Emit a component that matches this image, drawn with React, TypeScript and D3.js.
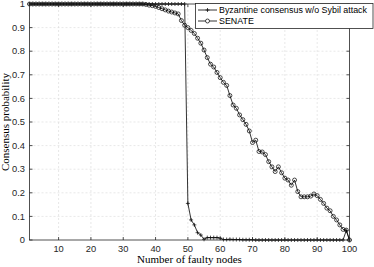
import React, { useEffect, useRef } from 'react';
import * as d3 from 'd3';

// faulty node counts 1..100
const nodes: number[] = d3.range(1, 101);

// Byzantine consensus w/o Sybil attack
const byzantine: number[] = [
  1, 1, 1, 1, 1, 1, 1, 1, 1, 1,
  1, 1, 1, 1, 1, 1, 1, 1, 1, 1,
  1, 1, 1, 1, 1, 1, 1, 1, 1, 1,
  1, 1, 1, 1, 1, 1, 1, 1, 1, 1,
  1, 1, 1, 1, 1, 1, 1, 1, 1, 0.155,
  0.085, 0.064, 0.031, 0.021, 0.003, 0.01, 0.01, 0.01, 0.01, 0.008,
  0.002, 0.002, 0.003, 0.002, 0.002, 0.002, 0.001, 0.001, 0.001, 0.001,
  0, 0, 0, 0, 0, 0, 0, 0, 0, 0,
  0, 0, 0, 0, 0, 0, 0, 0, 0, 0,
  0, 0, 0, 0, 0, 0, 0, 0, 0.04, 0
];

// SENATE
const senate: number[] = [
  1, 1, 1, 1, 1, 1, 1, 1, 1, 1,
  1, 1, 1, 1, 1, 1, 1, 1, 1, 1,
  1, 1, 1, 1, 1, 1, 1, 1, 1, 1,
  1, 1, 1, 1, 1, 1, 0.998, 0.995, 0.993, 0.99,
  0.985, 0.98, 0.975, 0.97, 0.966, 0.962, 0.958, 0.93, 0.91, 0.9,
  0.888, 0.875, 0.855, 0.834, 0.805, 0.773, 0.745, 0.733, 0.71, 0.688,
  0.668, 0.655, 0.612, 0.572, 0.558, 0.53, 0.51, 0.49, 0.462, 0.413,
  0.423, 0.375, 0.373, 0.362, 0.332, 0.31, 0.29, 0.31, 0.285, 0.262,
  0.254, 0.232, 0.254, 0.205, 0.183, 0.183, 0.183, 0.186, 0.195, 0.188,
  0.172, 0.155, 0.135, 0.124, 0.1, 0.085, 0.064, 0.045, 0.042, 0
];

const xTicks: number[] = [10, 20, 30, 40, 50, 60, 70, 80, 90, 100];
const yTicks: number[] = [0, 0.1, 0.2, 0.3, 0.4, 0.5, 0.6, 0.7, 0.8, 0.9, 1];
const seriesNames: string[] = ['Byzantine consensus w/o Sybil attack', 'SENATE'];

const W = 374;
const H = 267;

const App = () => {
  const svgRef = useRef<SVGSVGElement>(null);

  useEffect(() => {
    const svg = d3.select(svgRef.current);
    svg.selectAll('*').remove();

    const x = d3.scaleLinear().domain([1, 100]).range([29.5, 349.5]);
    const y = d3.scaleLinear().domain([0, 1]).range([240, 4]);
    const axisColor = '#262626';
    const tickFont = '"Liberation Sans", Arial, sans-serif';
    const labelFont = '"Liberation Serif", "DejaVu Serif", serif';

    svg.append('rect')
      .attr('width', W).attr('height', H).attr('fill', '#fff');

    //grid
    const grid = svg.append('g')
      .attr('stroke', '#d9d9d9')
      .attr('stroke-width', 0.6)
      .attr('stroke-dasharray', '2,2');
    grid.selectAll('.gx').data(xTicks.filter(d => d < 100)).enter().append('line')
      .attr('x1', d => x(d)).attr('x2', d => x(d))
      .attr('y1', y(0)).attr('y2', y(1));
    grid.selectAll('.gy').data(yTicks.filter(d => d > 0 && d < 1)).enter().append('line')
      .attr('x1', x(1)).attr('x2', x(100))
      .attr('y1', d => y(d)).attr('y2', d => y(d));

    //series
    const pts = (vals: number[]) => nodes.map((n, i) => [n, vals[i]] as [number, number]);
    const line = d3.line<[number, number]>().x(d => x(d[0])).y(d => y(d[1]));

    const byz = pts(byzantine);
    const sen = pts(senate);

    svg.append('path').datum(byz)
      .attr('fill', 'none').attr('stroke', '#000').attr('stroke-width', 0.8)
      .attr('d', line);
    svg.append('g').selectAll('path').data(byz).enter().append('path')
      .attr('d', d => `M${x(d[0]) - 2},${y(d[1])}h4M${x(d[0])},${y(d[1]) - 2}v4`)
      .attr('stroke', '#000').attr('stroke-width', 0.7);

    svg.append('path').datum(sen)
      .attr('fill', 'none').attr('stroke', '#000').attr('stroke-width', 0.8)
      .attr('d', line);
    svg.append('g').selectAll('circle').data(sen).enter().append('circle')
      .attr('cx', d => x(d[0])).attr('cy', d => y(d[1])).attr('r', 2)
      .attr('fill', 'none').attr('stroke', '#000').attr('stroke-width', 0.7);

    //axes box + ticks
    const ax = svg.append('g').attr('stroke', axisColor).attr('stroke-width', 0.8).attr('fill', 'none');
    ax.append('rect')
      .attr('x', x(1)).attr('y', y(1))
      .attr('width', x(100) - x(1)).attr('height', y(0) - y(1));
    xTicks.forEach(t => {
      ax.append('line').attr('x1', x(t)).attr('x2', x(t)).attr('y1', y(0)).attr('y2', y(0) - 3);
      ax.append('line').attr('x1', x(t)).attr('x2', x(t)).attr('y1', y(1)).attr('y2', y(1) + 3);
    });
    yTicks.forEach(t => {
      ax.append('line').attr('x1', x(1)).attr('x2', x(1) + 3).attr('y1', y(t)).attr('y2', y(t));
      ax.append('line').attr('x1', x(100)).attr('x2', x(100) - 3).attr('y1', y(t)).attr('y2', y(t));
    });

    //tick labels
    svg.append('g').selectAll('text').data(xTicks).enter().append('text')
      .attr('x', d => x(d)).attr('y', 252)
      .attr('text-anchor', 'middle')
      .attr('font-family', tickFont).attr('font-size', 9.3).attr('fill', axisColor)
      .text(d => d);
    svg.append('g').selectAll('text').data(yTicks).enter().append('text')
      .attr('x', 25).attr('y', d => y(d) + 3.2)
      .attr('text-anchor', 'end')
      .attr('font-family', tickFont).attr('font-size', 9.3).attr('fill', axisColor)
      .text(d => d3.format('~g')(d));

    //axis labels
    svg.append('text')
      .attr('x', 189.5).attr('y', 263)
      .attr('text-anchor', 'middle')
      .attr('font-family', labelFont).attr('font-size', 11).attr('fill', '#000')
      .text('Number of faulty nodes');
    svg.append('text')
      .attr('transform', `translate(9,${(y(0) + y(1)) / 2}) rotate(-90)`)
      .attr('text-anchor', 'middle')
      .attr('font-family', labelFont).attr('font-size', 11).attr('fill', '#000')
      .text('Consensus probability');

    //legend
    const lg = svg.append('g');
    lg.append('rect')
      .attr('x', 195.5).attr('y', 3.5).attr('width', 177.5).attr('height', 25)
      .attr('fill', '#fff').attr('stroke', axisColor).attr('stroke-width', 0.8);
    seriesNames.forEach((name, i) => {
      const ly = 10 + i * 11;
      lg.append('line').attr('x1', 198).attr('x2', 217).attr('y1', ly).attr('y2', ly)
        .attr('stroke', '#000').attr('stroke-width', 0.8);
      if (i === 0) {
        lg.append('path').attr('d', `M205.5,${ly}h4M207.5,${ly - 2}v4`)
          .attr('stroke', '#000').attr('stroke-width', 0.7);
      } else {
        lg.append('circle').attr('cx', 207.5).attr('cy', ly).attr('r', 2)
          .attr('fill', '#fff').attr('stroke', '#000').attr('stroke-width', 0.7);
      }
      lg.append('text').attr('x', 219).attr('y', ly + 3.2)
        .attr('font-family', tickFont).attr('font-size', 8.9).attr('fill', '#000')
        .text(name);
    });
  }, []);

  return (
    <svg ref={svgRef} width={W} height={H}
      style={{ position: 'absolute', left: 0, top: 0, display: 'block' }} />
  );
};

export default App;
